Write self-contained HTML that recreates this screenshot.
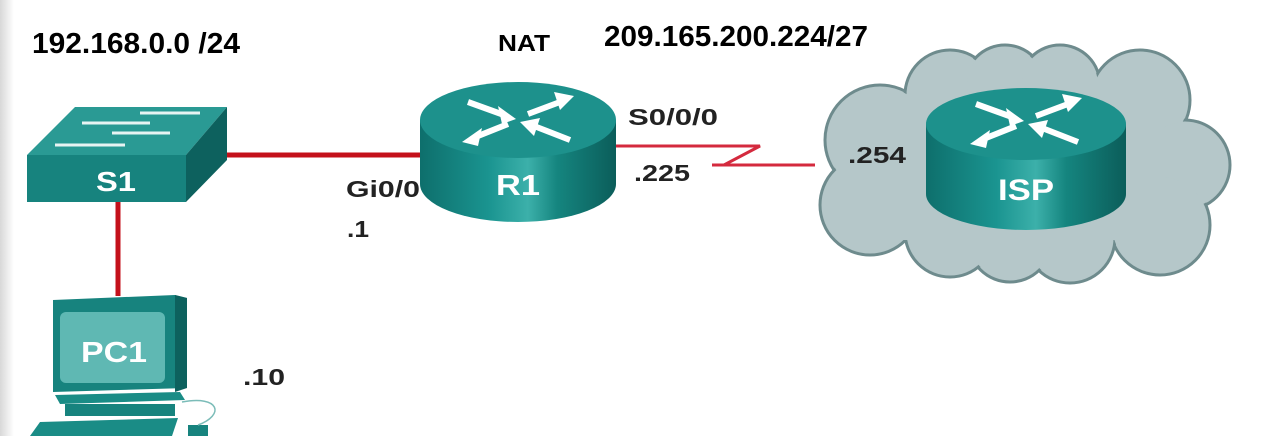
<!DOCTYPE html>
<html><head><meta charset="utf-8"><style>
html,body{margin:0;padding:0;background:#fff;width:1273px;height:436px;overflow:hidden}
text{font-family:"Liberation Sans",sans-serif;font-weight:bold}
</style></head><body>
<svg width="1273" height="436" viewBox="0 0 1273 436" xmlns="http://www.w3.org/2000/svg">
<defs>
<linearGradient id="side" x1="0" x2="1"><stop offset="0" stop-color="#d8d8d8"/><stop offset="1" stop-color="#fff"/></linearGradient>
<linearGradient id="body" x1="0" x2="1">
<stop offset="0" stop-color="#0e6f6c"/><stop offset="0.35" stop-color="#1a9490"/><stop offset="0.55" stop-color="#3cb0aa"/><stop offset="0.7" stop-color="#15857f"/><stop offset="1" stop-color="#0b5d5a"/></linearGradient>
<g id="arrows" stroke="#fff" stroke-width="6" fill="#fff">
<line x1="-50" y1="-18" x2="-14" y2="-5"/><polygon points="-2,-1 -20,-14 -16,4" stroke="none"/>
<line x1="10" y1="-6" x2="42" y2="-18"/><polygon points="56,-24 36,-28 42,-10" stroke="none"/>
<line x1="-10" y1="4" x2="-40" y2="16"/><polygon points="-56,22 -36,8 -40,26" stroke="none"/>
<line x1="52" y1="20" x2="16" y2="6"/><polygon points="2,2 22,-2 16,16" stroke="none"/>
</g>
</defs>
<rect x="0" y="0" width="14" height="436" fill="url(#side)"/>

<text x="32" y="53" font-size="29" textLength="208" lengthAdjust="spacingAndGlyphs">192.168.0.0 /24</text>
<text x="498" y="51" font-size="23" textLength="52" lengthAdjust="spacingAndGlyphs">NAT</text>
<text x="604" y="46" font-size="29" textLength="264" lengthAdjust="spacingAndGlyphs">209.165.200.224/27</text>

<!-- links -->
<line x1="210" y1="155" x2="430" y2="155" stroke="#c4111b" stroke-width="5"/>
<line x1="118" y1="200" x2="118" y2="296" stroke="#c4111b" stroke-width="5"/>
<polyline points="612,146 760,146 724,165 712,165 815,165" fill="none" stroke="#d42a3e" stroke-width="3"/>

<!-- switch -->
<polygon points="75,107 227,107 186,155 27,155" fill="#2a9a94"/>
<rect x="27" y="155" width="159" height="47" fill="#17837e"/>
<polygon points="186,155 227,107 227,160 186,202" fill="#0d615e"/>
<g stroke="#e8f4f3" stroke-width="3">
<line x1="140" y1="113" x2="200" y2="113"/><line x1="82" y1="123" x2="150" y2="123"/>
<line x1="112" y1="133" x2="170" y2="133"/><line x1="55" y1="145" x2="125" y2="145"/></g>
<text x="116" y="191" font-size="28" fill="#fff" text-anchor="middle" textLength="40" lengthAdjust="spacingAndGlyphs">S1</text>

<!-- PC -->
<polygon points="53,300 175,295 187,298 187,388 53,392" fill="#17837e"/>
<polygon points="175,295 187,298 187,388 175,392" fill="#0d615e"/>
<rect x="60" y="312" width="105" height="71" rx="6" fill="#5fb8b3"/>
<text x="114" y="362" font-size="29" fill="#fff" text-anchor="middle" textLength="66" lengthAdjust="spacingAndGlyphs">PC1</text>
<polygon points="55,395 180,392 185,400 60,404" fill="#1a8c86"/>
<rect x="65" y="404" width="110" height="12" fill="#17837e"/>
<polygon points="40,422 178,418 172,436 30,436" fill="#1a8c86"/>
<rect x="188" y="425" width="20" height="11" fill="#17837e"/>
<path d="M182,402 C220,395 225,415 198,425" fill="none" stroke="#7bbcb8" stroke-width="1.5"/>

<!-- R1 -->
<path d="M420,120 L420,184 A98,38 0 0 0 616,184 L616,120 Z" fill="url(#body)"/>
<ellipse cx="518" cy="120" rx="98" ry="38" fill="#1d918c"/>
<use href="#arrows" transform="translate(518,120)"/>
<text x="518" y="195" font-size="29" fill="#fff" text-anchor="middle" textLength="44" lengthAdjust="spacingAndGlyphs">R1</text>
<text x="346" y="197" font-size="23" fill="#222" textLength="74" lengthAdjust="spacingAndGlyphs">Gi0/0</text>
<text x="347" y="237" font-size="23" fill="#222" textLength="22" lengthAdjust="spacingAndGlyphs">.1</text>
<text x="628" y="125" font-size="23" fill="#222" textLength="90" lengthAdjust="spacingAndGlyphs">S0/0/0</text>
<text x="634" y="181" font-size="23" fill="#222" textLength="56" lengthAdjust="spacingAndGlyphs">.225</text>
<text x="243" y="385" font-size="23" fill="#222" textLength="42" lengthAdjust="spacingAndGlyphs">.10</text>

<!-- cloud -->
<g fill="#b5c7c9" stroke="#6e8b8d" stroke-width="3">
<circle cx="880" cy="140" r="55"/><circle cx="870" cy="205" r="50"/><circle cx="950" cy="95" r="45"/><circle cx="1005" cy="85" r="40"/>
<circle cx="1060" cy="85" r="40"/><circle cx="1140" cy="100" r="50"/><circle cx="1185" cy="165" r="45"/>
<circle cx="1160" cy="225" r="50"/><circle cx="1070" cy="238" r="45"/><circle cx="1010" cy="240" r="42"/><circle cx="950" cy="232" r="45"/></g>
<g fill="#b5c7c9">
<circle cx="880" cy="140" r="53"/><circle cx="870" cy="205" r="48"/><circle cx="950" cy="95" r="43"/><circle cx="1005" cy="85" r="38"/>
<circle cx="1060" cy="85" r="38"/><circle cx="1140" cy="100" r="48"/><circle cx="1185" cy="165" r="43"/>
<circle cx="1160" cy="225" r="48"/><circle cx="1070" cy="238" r="43"/><circle cx="1010" cy="240" r="40"/><circle cx="950" cy="232" r="43"/>
<rect x="880" y="100" width="280" height="140"/></g>
<text x="848" y="163" font-size="23" fill="#222" textLength="58" lengthAdjust="spacingAndGlyphs">.254</text>

<!-- ISP -->
<path d="M926,124 L926,194 A100,36 0 0 0 1126,194 L1126,124 Z" fill="url(#body)"/>
<ellipse cx="1026" cy="124" rx="100" ry="36" fill="#1d918c"/>
<use href="#arrows" transform="translate(1026,122)"/>
<text x="1026" y="200" font-size="30" fill="#fff" text-anchor="middle" textLength="56" lengthAdjust="spacingAndGlyphs">ISP</text>
</svg>
</body></html>
